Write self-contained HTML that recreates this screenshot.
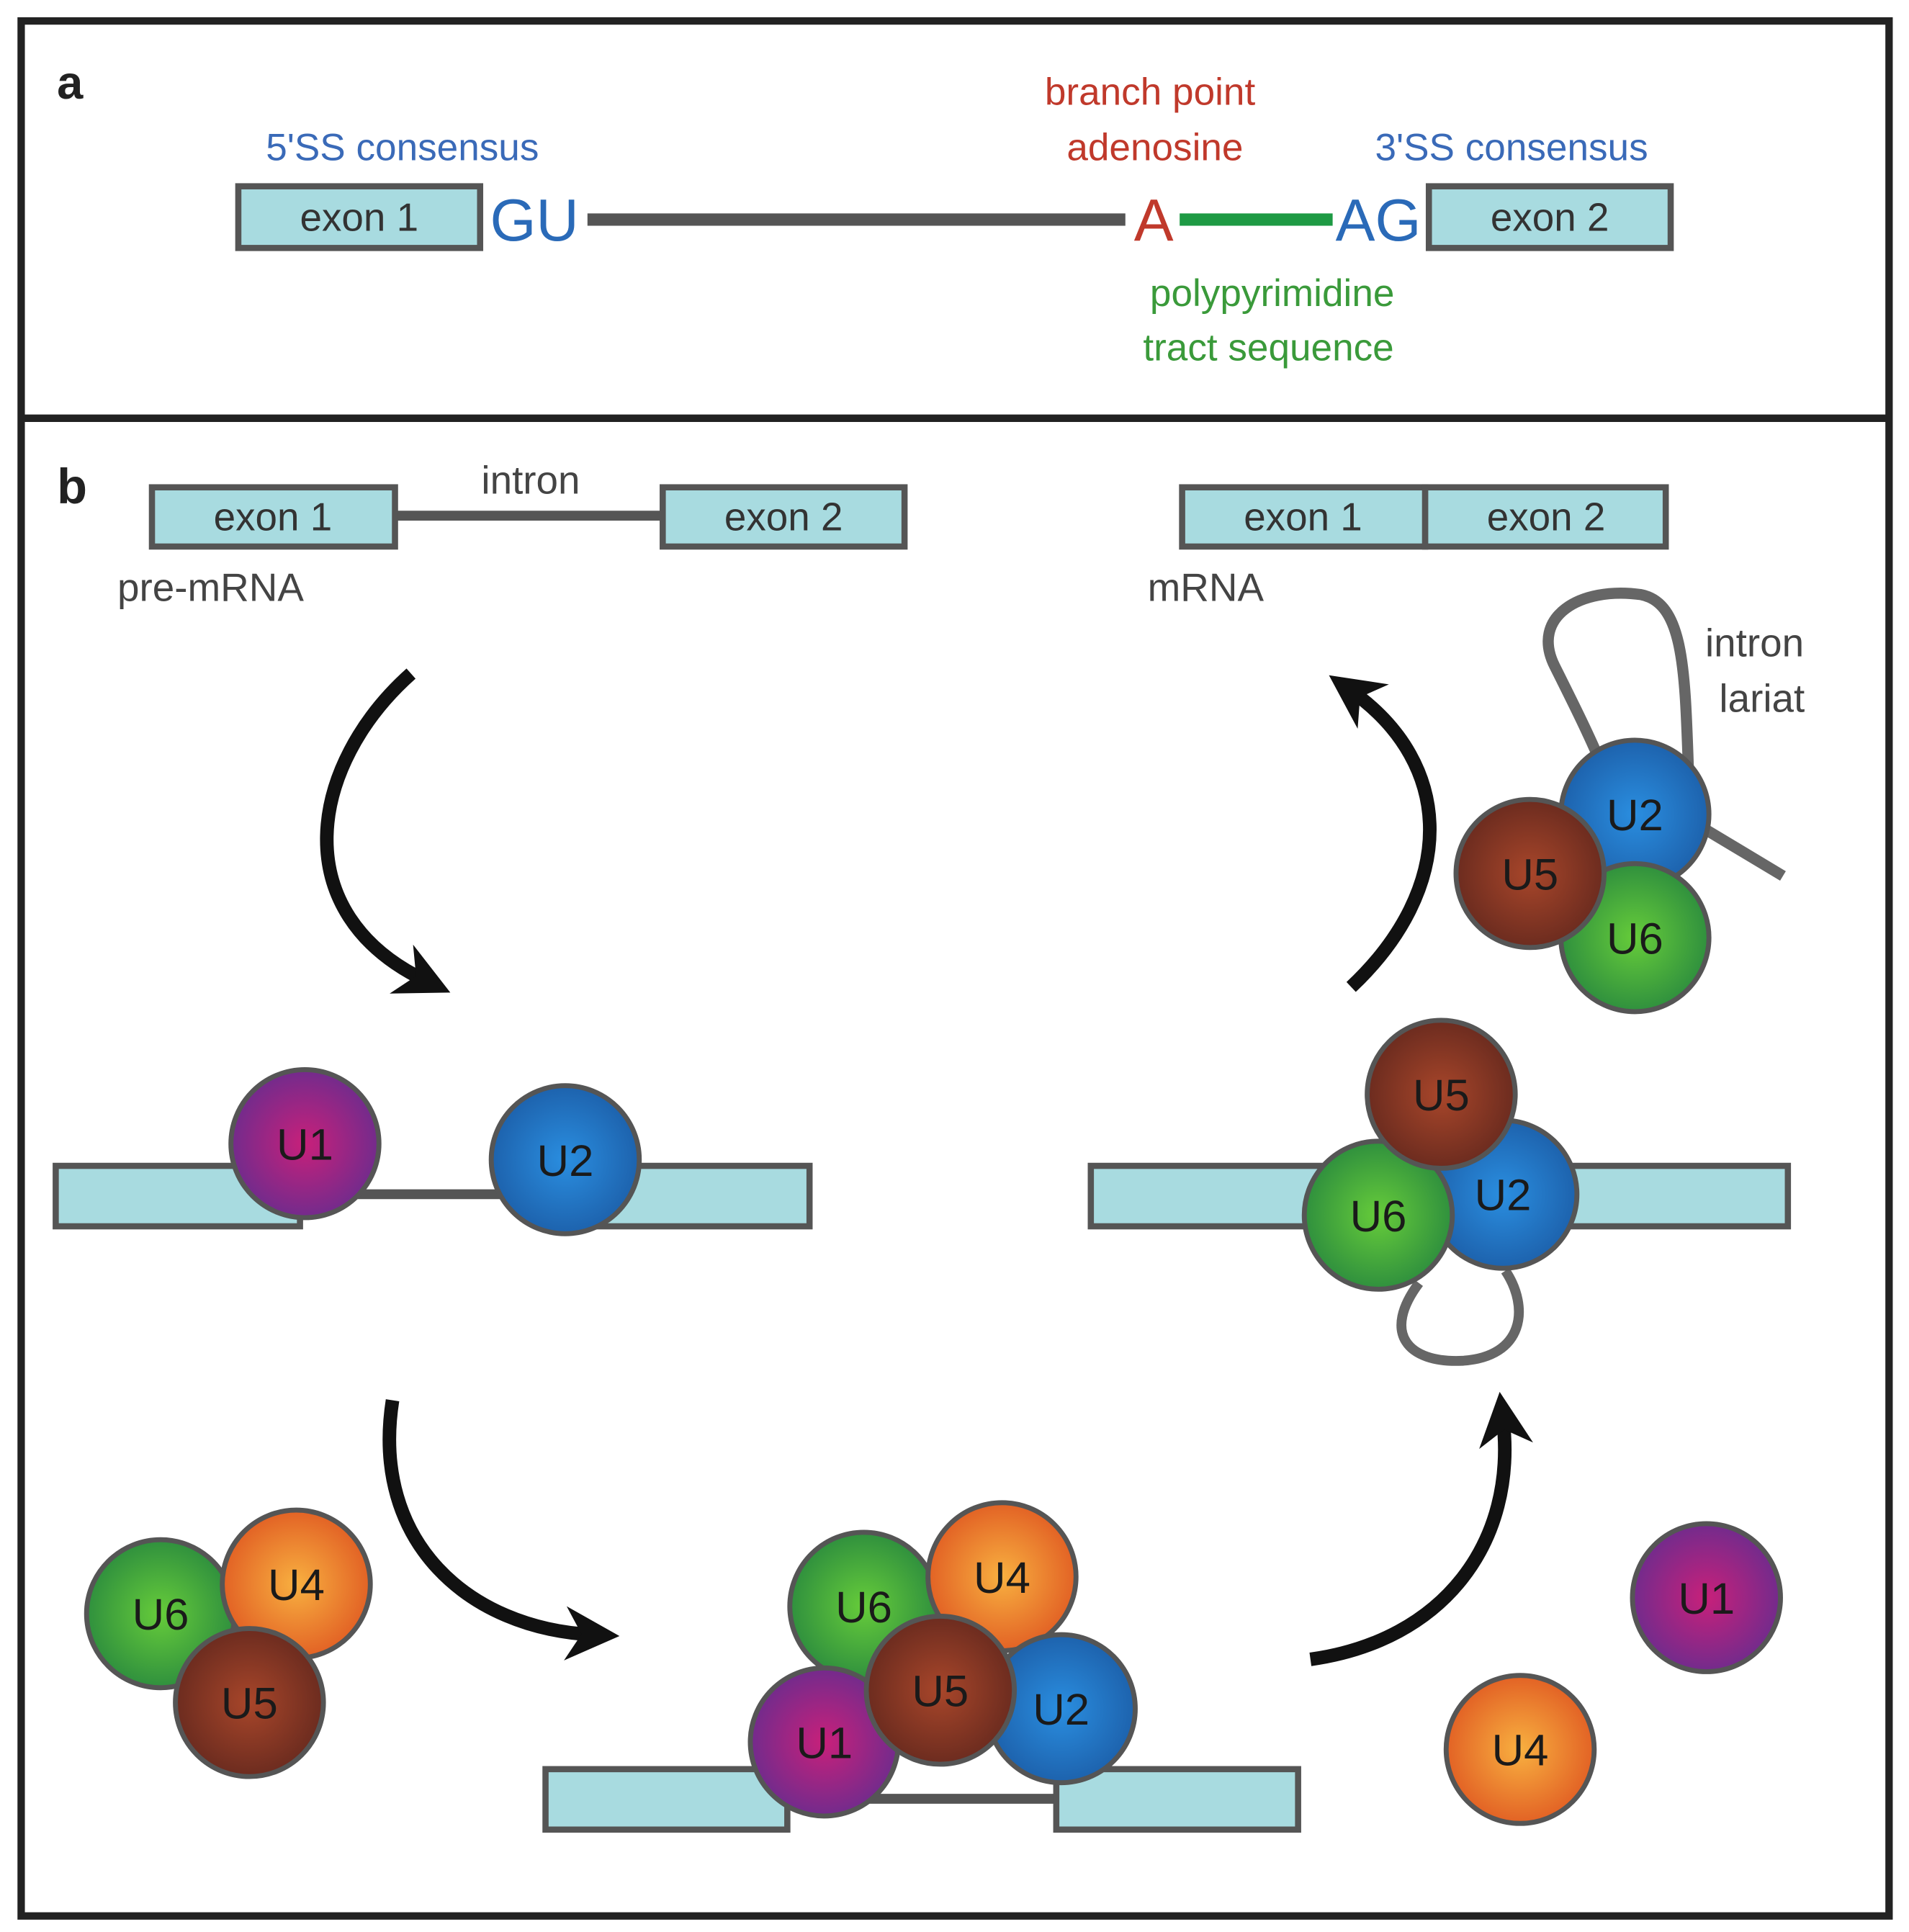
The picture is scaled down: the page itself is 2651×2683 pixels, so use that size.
<!DOCTYPE html>
<html><head><meta charset="utf-8"><style>
html,body{margin:0;padding:0;background:#fff;}
svg{display:block;}
text{font-family:"Liberation Sans",sans-serif;}
</style></head><body>
<svg width="2651" height="2683" viewBox="0 0 1547 1566" xmlns="http://www.w3.org/2000/svg">
<defs>
<radialGradient id="gP" cx="50%" cy="50%" r="55%"><stop offset="0" stop-color="#c8207a"/><stop offset="1" stop-color="#6a2c8e"/></radialGradient>
<radialGradient id="gB" cx="50%" cy="50%" r="55%"><stop offset="0" stop-color="#2a8ee0"/><stop offset="1" stop-color="#1c5ea8"/></radialGradient>
<radialGradient id="gG" cx="50%" cy="50%" r="55%"><stop offset="0" stop-color="#66cc3a"/><stop offset="1" stop-color="#2a8a3e"/></radialGradient>
<radialGradient id="gO" cx="50%" cy="50%" r="55%"><stop offset="0" stop-color="#f8b040"/><stop offset="1" stop-color="#e05a22"/></radialGradient>
<radialGradient id="gR" cx="50%" cy="50%" r="55%"><stop offset="0" stop-color="#a8462a"/><stop offset="1" stop-color="#66291e"/></radialGradient>
<marker id="ah" viewBox="0 0 10 10" refX="5" refY="5" markerWidth="4" markerHeight="4" orient="auto"><path d="M0,0 L10,5 L0,10 L3,5 Z" fill="#111"/></marker>
</defs>
<rect x="0" y="0" width="1547" height="1566" fill="#fff"/>
<rect x="17" y="17" width="1514" height="1536" fill="none" stroke="#222" stroke-width="6"/>
<line x1="17" y1="339" x2="1531" y2="339" stroke="#222" stroke-width="6"/>

<!-- panel a -->
<text x="46" y="80" font-size="38" font-weight="bold" fill="#222">a</text>
<g stroke="#555" stroke-width="5" fill="#a8dbe0">
<rect x="193" y="151" width="196" height="50"/>
<rect x="1158" y="151" width="196" height="50"/>
</g>
<g font-size="32" fill="#333" text-anchor="middle">
<text x="291" y="187">exon 1</text><text x="1256" y="187">exon 2</text>
</g>
<line x1="476" y1="178" x2="912" y2="178" stroke="#555" stroke-width="10"/>
<line x1="956" y1="178" x2="1080" y2="178" stroke="#1e9a44" stroke-width="10"/>
<text x="433" y="195" font-size="48" fill="#2a6ab8" text-anchor="middle">GU</text>
<text x="935" y="195" font-size="48" fill="#c0392b" text-anchor="middle">A</text>
<text x="1117" y="195" font-size="48" fill="#2a6ab8" text-anchor="middle">AG</text>
<g font-size="31" text-anchor="middle">
<text x="326" y="130" fill="#3a6ab8">5'SS consensus</text>
<text x="1225" y="130" fill="#3a6ab8">3'SS consensus</text>
<text x="932" y="85" fill="#c0392b">branch point</text>
<text x="936" y="130" fill="#c0392b">adenosine</text>
<text x="1031" y="248" fill="#3a9a3a">polypyrimidine</text>
<text x="1028" y="292" fill="#3a9a3a">tract sequence</text>
</g>

<!-- panel b -->
<text x="46" y="408" font-size="40" font-weight="bold" fill="#222">b</text>
<line x1="320" y1="418" x2="537" y2="418" stroke="#555" stroke-width="8"/>
<g stroke="#555" stroke-width="5" fill="#a8dbe0">
<rect x="123" y="395" width="197" height="48"/>
<rect x="537" y="395" width="196" height="48"/>
<rect x="958" y="395" width="197" height="48"/>
<rect x="1155" y="395" width="195" height="48"/>
</g>
<g font-size="32" fill="#333" text-anchor="middle">
<text x="221" y="430">exon 1</text><text x="635" y="430">exon 2</text>
<text x="1056" y="430">exon 1</text><text x="1253" y="430">exon 2</text>
</g>
<g font-size="32" fill="#444">
<text x="430" y="400" text-anchor="middle">intron</text>
<text x="95" y="487">pre-mRNA</text>
<text x="930" y="487">mRNA</text>
<text x="1422" y="532" text-anchor="middle">intron</text>
<text x="1428" y="577" text-anchor="middle">lariat</text>
</g>

<!-- arrows -->
<g fill="none" stroke="#111" stroke-width="11" stroke-linecap="butt">
<path d="M333,546 C250,620 230,740 345,795" marker-end="url(#ah)"/>
<path d="M318,1135 C300,1250 380,1320 480,1325" marker-end="url(#ah)"/>
<path d="M1062,1345 C1170,1330 1230,1250 1218,1150" marker-end="url(#ah)"/>
<path d="M1095,800 C1180,720 1180,620 1095,560" marker-end="url(#ah)"/>
</g>

<!-- stage 2 -->
<line x1="240" y1="968" x2="405" y2="968" stroke="#555" stroke-width="8"/>
<g stroke="#555" stroke-width="5" fill="#a8dbe0">
<rect x="45" y="945" width="198" height="49"/>
<rect x="460" y="945" width="196" height="49"/>
</g>

<!-- stage 3 -->
<line x1="636" y1="1458" x2="857" y2="1458" stroke="#555" stroke-width="8"/>
<g stroke="#555" stroke-width="5" fill="#a8dbe0">
<rect x="442" y="1434" width="196" height="49"/>
<rect x="856" y="1434" width="196" height="49"/>
<rect x="884" y="945" width="565" height="49"/>
</g>

<!-- loops -->
<path d="M1150,1040 C1120,1080 1140,1105 1185,1103 C1235,1100 1240,1060 1220,1030" fill="none" stroke="#666" stroke-width="8"/>
<path d="M1445,710 L1370,665 C1365,560 1370,490 1330,482 C1280,475 1240,500 1260,540 C1275,570 1290,600 1300,625" fill="none" stroke="#666" stroke-width="9"/>

<g stroke="#555" stroke-width="4" font-size="36" text-anchor="middle" fill="#222">
<!-- stage 2 -->
<circle cx="247" cy="927" r="60" fill="url(#gP)"/>
<circle cx="458" cy="940" r="60" fill="url(#gB)"/>
<!-- left group -->
<circle cx="130" cy="1308" r="60" fill="url(#gG)"/>
<circle cx="240" cy="1284" r="60" fill="url(#gO)"/>
<circle cx="202" cy="1380" r="60" fill="url(#gR)"/>
<!-- spliceosome -->
<circle cx="700" cy="1302" r="60" fill="url(#gG)"/>
<circle cx="812" cy="1278" r="60" fill="url(#gO)"/>
<circle cx="860" cy="1385" r="60" fill="url(#gB)"/>
<circle cx="668" cy="1412" r="60" fill="url(#gP)"/>
<circle cx="762" cy="1370" r="60" fill="url(#gR)"/>
<!-- free -->
<circle cx="1383" cy="1295" r="60" fill="url(#gP)"/>
<circle cx="1232" cy="1418" r="60" fill="url(#gO)"/>
<!-- stage 4 -->
<circle cx="1218" cy="968" r="60" fill="url(#gB)"/>
<circle cx="1117" cy="985" r="60" fill="url(#gG)"/>
<circle cx="1168" cy="887" r="60" fill="url(#gR)"/>
<!-- lariat group -->
<circle cx="1325" cy="660" r="60" fill="url(#gB)"/>
<circle cx="1325" cy="760" r="60" fill="url(#gG)"/>
<circle cx="1240" cy="708" r="60" fill="url(#gR)"/>
</g>
<g font-size="36" text-anchor="middle" fill="#1a1a1a">
<text x="247" y="940">U1</text><text x="458" y="953">U2</text>
<text x="130" y="1321">U6</text><text x="240" y="1297">U4</text><text x="202" y="1393">U5</text>
<text x="700" y="1315">U6</text><text x="812" y="1291">U4</text><text x="860" y="1398">U2</text>
<text x="668" y="1425">U1</text><text x="762" y="1383">U5</text>
<text x="1383" y="1308">U1</text><text x="1232" y="1431">U4</text>
<text x="1218" y="981">U2</text><text x="1117" y="998">U6</text><text x="1168" y="900">U5</text>
<text x="1325" y="673">U2</text><text x="1325" y="773">U6</text><text x="1240" y="721">U5</text>
</g>
</svg>
</body></html>
